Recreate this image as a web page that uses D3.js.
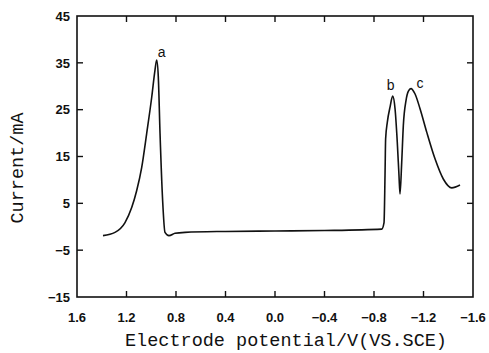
<!DOCTYPE html>
<html>
<head>
<meta charset="utf-8">
<script src="https://cdn.jsdelivr.net/npm/d3@7.9.0/dist/d3.min.js"></script>
<style>
  body { margin: 0; background: #fff; }
  svg { display: block; }
  .tick-label { font-family: "Liberation Sans", Arial, sans-serif; font-weight: bold; font-size: 13px; fill: #111; }
  .axis-title { font-family: "Liberation Mono", "DejaVu Sans Mono", monospace; font-size: 18.5px; fill: #111; }
  .peak-label { font-family: "Liberation Sans", Arial, sans-serif; font-size: 14px; fill: #111; }
</style>
</head>
<body>
<svg id="chart" width="489" height="353"></svg>
<script>
// potential (V vs SCE) and current (mA)
const potential = [1.39, 1.293, 1.212, 1.158, 1.118, 1.077, 1.037, 0.996, 0.97, 0.956,
  0.943, 0.929, 0.908, 0.889, 0.857, 0.808, 0.727,
  0.4, 0.0, -0.4, -0.862, -0.881, -0.889, -0.894, -0.908, -0.93, -0.951,
  -0.97, -0.988, -1.002, -1.01, -1.024, -1.037, -1.059, -1.077, -1.099,
  -1.131, -1.172, -1.226, -1.293, -1.36, -1.428, -1.495];
const current = [-1.9, -1.2, 0.9, 4.1, 7.7, 12.7, 19.9, 27.7, 33.4, 35.6,
  32.0, 19.9, 5.6, -1.2, -1.9, -1.4, -1.2,
  -1.0, -0.9, -0.8, -0.5, 0.9, 10.9, 18.8, 22.4, 25.6, 27.9,
  25.2, 18.1, 10.9, 7.0, 13.8, 21.6, 27.0, 28.9, 29.5,
  28.4, 25.2, 20.2, 14.5, 10.2, 8.3, 8.9];

const peakNames = ['a', 'b', 'c'];
const peakPotential = [0.956, -0.951, -1.099];
const peakCurrent = [35.6, 27.9, 29.5];

const xTicks = [1.6, 1.2, 0.8, 0.4, 0.0, -0.4, -0.8, -1.2, -1.6];
const yTicks = [45, 35, 25, 15, 5, -5, -15];

const margin = { left: 77, right: 16, top: 16, bottom: 56 };
const width = 489, height = 353;

const svg = d3.select('#chart');
const x = d3.scaleLinear().domain([1.6, -1.6]).range([margin.left, width - margin.right]);
const y = d3.scaleLinear().domain([-15, 45]).range([height - margin.bottom, margin.top]);

const fmtX = d => (d < 0 ? '\u2212' : '') + Math.abs(d).toFixed(1);
const fmtY = d => (d < 0 ? '\u2212' : '') + Math.abs(d);

// frame
svg.append('rect')
  .attr('x', x(1.6)).attr('y', y(45))
  .attr('width', x(-1.6) - x(1.6)).attr('height', y(-15) - y(45))
  .attr('fill', 'none').attr('stroke', '#111').attr('stroke-width', 1.6);

const tickLen = 6;
const inner = xTicks.slice(1, -1);
svg.append('g').selectAll('line').data(inner).enter().append('line')
  .attr('x1', d => x(d)).attr('x2', d => x(d))
  .attr('y1', y(-15)).attr('y2', y(-15) - tickLen)
  .attr('stroke', '#111').attr('stroke-width', 1.4);
svg.append('g').selectAll('line').data(inner).enter().append('line')
  .attr('x1', d => x(d)).attr('x2', d => x(d))
  .attr('y1', y(45)).attr('y2', y(45) + tickLen)
  .attr('stroke', '#111').attr('stroke-width', 1.4);

const innerY = yTicks.slice(1, -1);
svg.append('g').selectAll('line').data(innerY).enter().append('line')
  .attr('x1', x(1.6)).attr('x2', x(1.6) + tickLen)
  .attr('y1', d => y(d)).attr('y2', d => y(d))
  .attr('stroke', '#111').attr('stroke-width', 1.4);
svg.append('g').selectAll('line').data(innerY).enter().append('line')
  .attr('x1', x(-1.6)).attr('x2', x(-1.6) - tickLen)
  .attr('y1', d => y(d)).attr('y2', d => y(d))
  .attr('stroke', '#111').attr('stroke-width', 1.4);

// tick labels
svg.append('g').selectAll('text').data(xTicks).enter().append('text')
  .attr('class', 'tick-label')
  .attr('x', d => x(d)).attr('y', 322)
  .attr('text-anchor', 'middle')
  .text(fmtX);
svg.append('g').selectAll('text').data(yTicks).enter().append('text')
  .attr('class', 'tick-label')
  .attr('x', x(1.6) - 7).attr('y', d => y(d))
  .attr('dy', '0.36em')
  .attr('text-anchor', 'end')
  .text(fmtY);

// titles
svg.append('text').attr('class', 'axis-title')
  .attr('x', 286).attr('y', 346)
  .attr('text-anchor', 'middle')
  .text('Electrode potential/V(VS.SCE)');
svg.append('text').attr('class', 'axis-title')
  .attr('transform', 'translate(23,168) rotate(-90)')
  .attr('text-anchor', 'middle')
  .text('Current/mA');

// trace
const pts = potential.map((p, i) => [p, current[i]]);
const line = d3.line()
  .x(d => x(d[0])).y(d => y(d[1]))
  .curve(d3.curveMonotoneX);
svg.append('path').datum(pts)
  .attr('d', line)
  .attr('fill', 'none').attr('stroke', '#111').attr('stroke-width', 1.6)
  .attr('stroke-linejoin', 'round');

// peak labels
svg.append('g').selectAll('text').data(peakNames).enter().append('text')
  .attr('class', 'peak-label')
  .attr('x', (d, i) => x(peakPotential[i]) + [5, -2, 9][i])
  .attr('y', (d, i) => y(peakCurrent[i]) + [-3, -6, -1][i])
  .attr('text-anchor', 'middle')
  .text(d => d);
</script>
</body>
</html>
